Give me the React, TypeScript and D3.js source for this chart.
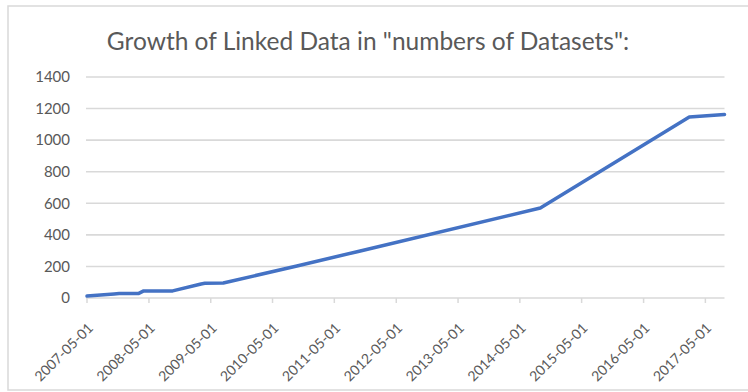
import React from "react";
import * as d3 from "d3";

const title = 'Growth of Linked Data in "numbers of Datasets":';
const dates = [
  "2007-05-01", "2007-10-08", "2007-11-07", "2008-02-28", "2008-03-31",
  "2008-09-18", "2009-03-05", "2009-03-27", "2009-07-14", "2010-09-22",
  "2011-09-19", "2014-08-30", "2017-01-26", "2017-08-22",
];
const datasets = [12, 25, 28, 28, 45, 45, 89, 93, 95, 203, 295, 570, 1146, 1163];
const tickLabels = [
  "2007-05-01", "2008-05-01", "2009-05-01", "2010-05-01", "2011-05-01", "2012-05-01",
  "2013-05-01", "2014-05-01", "2015-05-01", "2016-05-01", "2017-05-01",
];
const yTicks = [0, 200, 400, 600, 800, 1000, 1200, 1400];

const parse = d3.utcParse("%Y-%m-%d");

export default function App() {
  const W = 748, H = 392;
  const left = 87, right = 724.5, top = 77, bottom = 298;
  const pts = dates.map((d, i) => ({ date: parse(d) as Date, v: datasets[i] }));
  const x = d3.scaleUtc()
    .domain([parse("2007-05-01") as Date, parse("2017-08-22") as Date])
    .range([left, right]);
  const y = d3.scaleLinear().domain([0, 1400]).range([bottom, top]);
  const line = d3.line<{ date: Date; v: number }>()
    .x((d) => x(d.date))
    .y((d) => y(d.v));
  const font = "Lato, 'Open Sans', sans-serif";
  return (
    <svg width={W} height={H} style={{ position: "absolute", left: 0, top: 0, background: "#fff" }}>
      <rect x={8} y={6} width={760} height={384} fill="#fff" stroke="#d9d9d9" strokeWidth={1.5} />
      <text x={368} y={50} textAnchor="middle" fontFamily={font} fontSize={24.5} fill="#595959">
        {title}
      </text>
      {yTicks.map((t) => (
        <g key={t}>
          <line x1={left - 1} x2={right} y1={y(t)} y2={y(t)} stroke="#d9d9d9" strokeWidth={1.6} />
          <text x={70} y={y(t)} dy="0.35em" textAnchor="end" fontFamily={font} fontSize={15} fill="#595959">
            {t}
          </text>
        </g>
      ))}
      {tickLabels.map((t) => {
        const tx = x(parse(t) as Date);
        return (
          <g key={t}>
            <line x1={tx} x2={tx} y1={bottom} y2={bottom + 5} stroke="#d9d9d9" strokeWidth={1.5} />
            <text
              transform={`translate(${tx + 3},${bottom + 27}) rotate(-45)`}
              textAnchor="end"
              dominantBaseline="central"
              fontFamily={font}
              fontSize={14}
              fill="#595959"
            >
              {t}
            </text>
          </g>
        );
      })}
      <path d={line(pts) || ""} fill="none" stroke="#4472C4" strokeWidth={3.5} strokeLinejoin="round" strokeLinecap="round" />
    </svg>
  );
}
